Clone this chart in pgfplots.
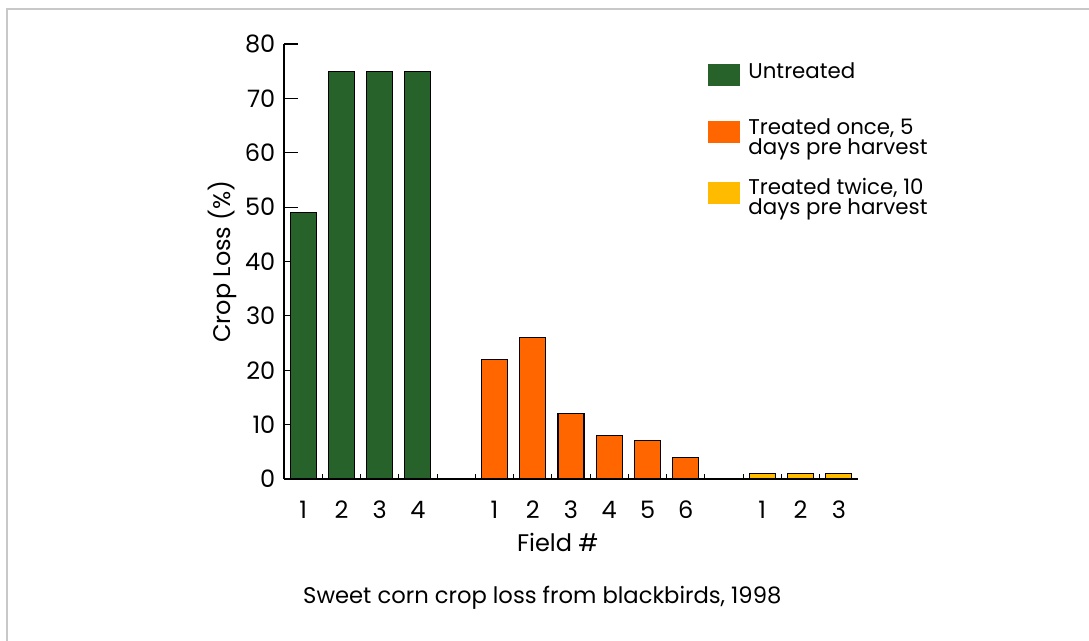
\documentclass[border=0pt]{standalone}
\usepackage{fontspec}
\setmainfont{Poppins}
\usepackage{pgfplots}
\pgfplotsset{compat=1.18}
\definecolor{cgreen}{HTML}{27622A}
\definecolor{corange}{HTML}{FF6600}
\definecolor{cyellow}{HTML}{FFBB00}
\definecolor{framegray}{HTML}{C8C8C8}
\begin{document}
\begin{tikzpicture}
\useasboundingbox (0pt,0pt) rectangle (816.75pt,480.75pt);
\draw[framegray, line width=1.5pt] (5.25pt,0pt) -- (5.25pt,474pt) -- (816.75pt,474pt);
\begin{axis}[
  at={(213pt,121.5pt)}, anchor=south west,
  scale only axis, width=430.5pt, height=326.25pt,
  clip=false,
  xmin=-0.5, xmax=14.5, ymin=0, ymax=80,
  axis lines=left, axis line style={-, line width=0.9pt},
  ybar, bar width=0.68, bar shift=0pt,
  ytick={0,10,...,80},
  tick align=inside, major tick length=10.5pt, minor tick length=4pt,
  tick style={black, line width=0.8pt},
  xtick={0,1,2,3,5,6,7,8,9,10,12,13,14},
  xticklabels={1,2,3,4,1,2,3,4,5,6,1,2,3},
  minor xtick={0.5,1.5,...,13.5},
  major x tick style={draw=none},
  /pgf/number format/assume math mode=true,
  tick label style={font=\fontsize{18}{20}\selectfont},
  yticklabel style={xshift=-3pt},
  xticklabel style={yshift=-13pt},
  legend image code/.code={\fill[#1,draw=none] (0pt,-4.5pt) rectangle (24pt,12pt);\path[draw=none,fill=none] (0pt,-12pt) -- (0pt,12pt);},
  legend style={at={(rel axis cs:0.732,0.97)}, anchor=north west, draw=none, fill=none,
    font=\fontsize{16}{12}\selectfont, row sep=12.5pt,
    nodes={align=left, inner sep=2pt}, cells={anchor=west},
    /tikz/every odd column/.style={column sep=4pt}},
]
\addplot[fill=cgreen, draw=black, line width=0.8pt] coordinates {(0,49)(1,75)(2,75)(3,75)};
\addlegendentry{Untreated\\\mbox{}}
\addplot[fill=corange, draw=black, line width=0.8pt] coordinates {(5,22)(6,26)(7,12)(8,8)(9,7)(10,4)};
\addlegendentry{Treated once, 5\\days pre harvest}
\addplot[fill=cyellow, draw=black, line width=0.8pt] coordinates {(12,1)(13,1)(14,1)};
\addlegendentry{Treated twice, 10\\days pre harvest}
\node[font=\fontsize{18}{20}\selectfont, rotate=90] at (axis description cs:-0.108,0.5) {Crop Loss (\%)};
\node[font=\fontsize{18}{20}\selectfont] at (axis description cs:0.477,-0.145) {Field \#};
\node[font=\fontsize{17}{20}\selectfont] at (axis description cs:0.45,-0.2736) {Sweet corn crop loss from blackbirds, 1998};
\end{axis}
\end{tikzpicture}
\end{document}
